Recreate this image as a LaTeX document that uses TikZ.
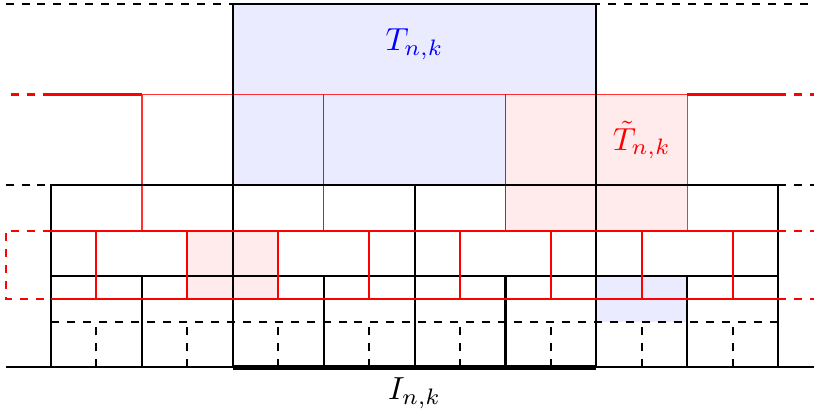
\documentclass[tikz,border=0pt]{standalone}
\begin{document}
\begin{tikzpicture}[
  blk/.style={line width=0.65pt},
  blkdash/.style={line width=0.65pt, dash pattern=on 2.5pt off 2.5pt},
  ithick/.style={line width=1.5pt},
  redthick/.style={red, line width=0.65pt},
  redthin/.style={red, line width=0.4pt, draw opacity=0.8},
  reddash/.style={red, line width=0.65pt, dash pattern=on 2.5pt off 2.5pt},
  bluefill/.style={fill=blue!8},
  pinkfill/.style={fill=red!8},
]
\useasboundingbox (-0.561,-0.473) rectangle (8.394,4.04);

% fills
\fill[bluefill] (2,2) rectangle (6,4);
\fill[bluefill] (6,0.5) rectangle (7,1);
\fill[pinkfill] (5,1.5) rectangle (7,3);
\fill[pinkfill] (1.5,0.75) rectangle (2.5,1.5);

% black dashed
\draw[blkdash] (-0.5,4) -- (2,4);
\draw[blkdash] (8.5,4) -- (6,4);
\draw[blkdash] (-0.5,2) -- (0,2);
\draw[blkdash] (8,2) -- (8.5,2);
\draw[blkdash] (0,0.5) -- (8,0.5);
\foreach \x in {0.5,1.5,...,7.5} \draw[blkdash] (\x,0) -- (\x,0.5);

% red thin upper tiles
\foreach \x in {1,3,5} \draw[redthin] (\x,1.5) rectangle (\x+2,3);

% black solid grid
\draw[blk] (-0.5,0) -- (8.5,0);
\draw[blk] (0,0) -- (0,2) -- (8,2) -- (8,0);
\draw[blk] (0,1) -- (8,1);
\draw[blk] (2,0) -- (2,4) -- (6,4) -- (6,0);
\draw[blk] (4,0) -- (4,2);
\foreach \x in {1,3,5,7} \draw[blk] (\x,0) -- (\x,1);
\draw[ithick] (2,0) -- (6,0);

% red thick
\draw[redthick] (0,3) -- (1,3) (7,3) -- (8,3);
\draw[redthick] (0,1.5) -- (8,1.5) (0,0.75) -- (8,0.75);
\foreach \x in {0.5,1.5,...,7.5} \draw[redthick] (\x,0.75) -- (\x,1.5);
\draw[reddash] (0,3) -- (-0.5,3) (8,3) -- (8.5,3);
\draw[reddash] (0,1.5) -- (-0.5,1.5) -- (-0.5,0.75) -- (0,0.75);
\draw[reddash] (8,1.5) -- (8.5,1.5) (8,0.75) -- (8.5,0.75);

% labels
\node[text=blue] (T) at (4,3.55) {$T_{n,k}$};
\node[text=red] (Tt) at (6.5,2.5) {$\tilde T_{n,k}$};
\node (I) at (4,-0.29) {$I_{n,k}$};
\end{tikzpicture}
\end{document}
